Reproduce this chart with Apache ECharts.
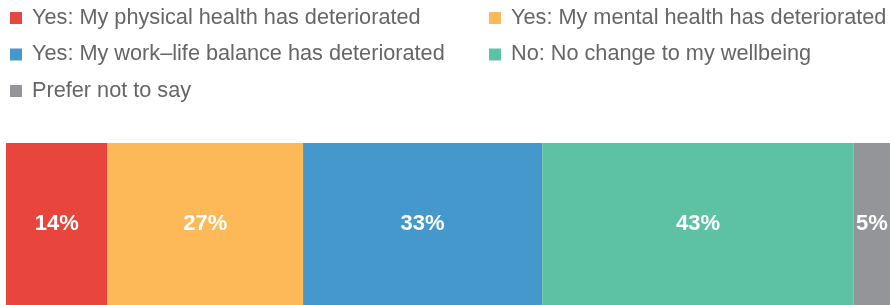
<!DOCTYPE html>
<html>
<head>
<meta charset="utf-8">
<script src="https://cdn.jsdelivr.net/npm/echarts@6/dist/echarts.min.js"></script>
<style>
  html, body { margin: 0; padding: 0; background: #fff; }
  #chart { width: 890px; height: 305px; }
</style>
</head>
<body>
<div id="chart"></div>
<script>
// answers (multiple choice, so totals exceed 100%)
var names = [
  'Yes: My physical health has deteriorated',
  'Yes: My mental health has deteriorated',
  'Yes: My work\u2013life balance has deteriorated',
  'No: No change to my wellbeing',
  'Prefer not to say'
];
var values = [14, 27, 33, 43, 5];
var colors = ['#E8453C', '#FDB858', '#4598CB', '#5DC2A3', '#939598'];

var total = values.reduce(function (a, b) { return a + b; }, 0);

var chart = echarts.init(document.getElementById('chart'));

var legendText = {
  color: '#666', fontSize: 21.7, fontFamily: 'Liberation Sans',
  padding: [0, 0, 0, 5]
};

chart.setOption({
  animation: false,
  textStyle: { fontFamily: 'Liberation Sans' },
  legend: [
    {
      data: [names[0], names[2], names[4]],
      orient: 'vertical',
      left: 5, top: 2,
      itemWidth: 12, itemHeight: 12, itemGap: 14.5,
      icon: 'rect',
      textStyle: legendText
    },
    {
      data: [names[1], names[3]],
      orient: 'vertical',
      left: 484, top: 2,
      itemWidth: 12, itemHeight: 12, itemGap: 14.5,
      icon: 'rect',
      textStyle: legendText
    }
  ],
  grid: { left: 6, right: 0, top: 143, bottom: 0 },
  xAxis: { type: 'value', min: 0, max: total, show: false },
  yAxis: { type: 'category', data: ['all'], show: false },
  series: names.map(function (n, i) {
    return {
      name: n,
      type: 'bar',
      stack: 'total',
      barWidth: '100%',
      data: [values[i]],
      itemStyle: { color: colors[i] },
      label: {
        show: true,
        position: 'inside',
        formatter: '{c}%',
        color: '#fff',
        fontSize: 22,
        fontWeight: 'bold',
        fontFamily: 'Liberation Sans'
      }
    };
  })
});
</script>
</body>
</html>
